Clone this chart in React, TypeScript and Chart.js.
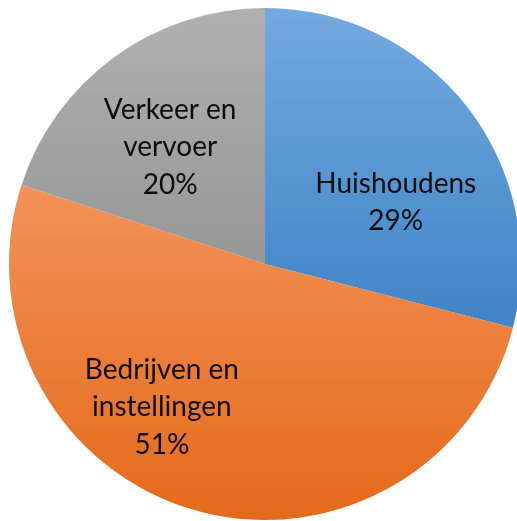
import React, { useEffect, useRef } from "react";
import { Chart, registerables } from "chart.js";

Chart.register(...registerables);

// ---- data ----
const categories: string[][] = [
  ["Huishoudens"],
  ["Bedrijven en", "instellingen"],
  ["Verkeer en", "vervoer"],
];
const shares: number[] = [29, 51, 20];
const percentLabels: string[] = ["29%", "51%", "20%"];

// ---- styles ----
const gradientTop: string[] = ["#73AADE", "#F39259", "#B0B0B0"];
const gradientBottom: string[] = ["#3F84C7", "#E46A19", "#979797"];
// label placement relative to slice: [angle shift in degrees, radius fraction]
const labelShiftDeg: number[] = [12.3, 19.7, -2.9];
const labelRadiusFrac: number[] = [0.566, 0.687, 0.59];
const FONT_SIZE = 28;
const LINE_GAP = 37.5;

const gradientPlugin = {
  id: "sliceGradient",
  beforeDatasetsDraw(chart: any) {
    const ctx = chart.ctx as CanvasRenderingContext2D;
    const meta = chart.getDatasetMeta(0);
    meta.data.forEach((arc: any, i: number) => {
      const { x, y, startAngle, endAngle, outerRadius } = arc;
      let minY = y;
      let maxY = y;
      const steps = 60;
      for (let s = 0; s <= steps; s++) {
        const a = startAngle + ((endAngle - startAngle) * s) / steps;
        const py = y + Math.sin(a) * outerRadius;
        if (py < minY) minY = py;
        if (py > maxY) maxY = py;
      }
      const g = ctx.createLinearGradient(0, minY, 0, maxY);
      g.addColorStop(0, gradientTop[i]);
      g.addColorStop(1, gradientBottom[i]);
      arc.options.backgroundColor = g;
    });
  },
};

const labelPlugin = {
  id: "sliceLabels",
  afterDatasetsDraw(chart: any) {
    const ctx = chart.ctx as CanvasRenderingContext2D;
    const meta = chart.getDatasetMeta(0);
    ctx.save();
    ctx.font = `${FONT_SIZE}px Lato, "Open Sans", sans-serif`;
    ctx.fillStyle = "#0d0d0d";
    ctx.textAlign = "center";
    ctx.textBaseline = "alphabetic";
    const capHalf = (FONT_SIZE * 0.7165) / 2;
    meta.data.forEach((arc: any, i: number) => {
      const { x, y, startAngle, endAngle, outerRadius } = arc;
      const mid = (startAngle + endAngle) / 2 + (labelShiftDeg[i] * Math.PI) / 180;
      const cx = x + Math.cos(mid) * outerRadius * labelRadiusFrac[i];
      const cy = y + Math.sin(mid) * outerRadius * labelRadiusFrac[i];
      const lines = [...categories[i], percentLabels[i]];
      const n = lines.length;
      lines.forEach((line, k) => {
        const lineMid = cy + (k - (n - 1) / 2) * LINE_GAP;
        ctx.fillText(line, cx, lineMid + capHalf);
      });
    });
    ctx.restore();
  },
};

export default function App() {
  const ref = useRef<HTMLCanvasElement | null>(null);
  useEffect(() => {
    if (!ref.current) return;
    const chart = new Chart(ref.current, {
      type: "pie",
      data: {
        labels: categories.map((c) => c.join(" ")),
        datasets: [
          {
            data: shares,
            backgroundColor: gradientTop,
            borderWidth: 0,
            hoverOffset: 0,
            offset: 0,
          },
        ],
      },
      options: {
        responsive: false,
        animation: false,
        devicePixelRatio: 1,
        layout: { padding: { left: 9, top: 8, right: 9, bottom: 1 } },
        plugins: {
          legend: { display: false },
          tooltip: { enabled: false },
        },
        events: [],
      },
      plugins: [gradientPlugin, labelPlugin],
    });
    return () => chart.destroy();
  }, []);
  return (
    <div
      style={{
        position: "fixed",
        left: 0,
        top: 0,
        width: 517,
        height: 521,
        overflow: "hidden",
        background: "#ffffff",
      }}
    >
      <canvas ref={ref} width={530} height={521} style={{ display: "block" }} />
    </div>
  );
}
